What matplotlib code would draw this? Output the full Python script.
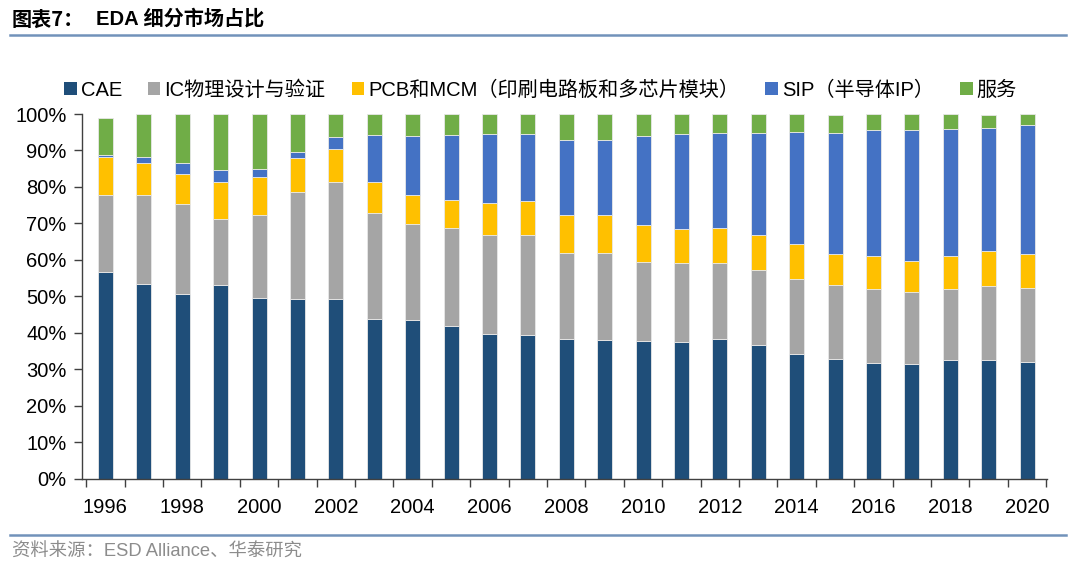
import numpy as np
from matplotlib import pyplot as plt
from matplotlib.lines import Line2D
from matplotlib.patches import Patch

plt.rcParams['font.family'] = ['Liberation Sans', 'Noto Sans CJK SC', 'DejaVu Sans']

years = list(range(1996, 2021))
# share of each segment, %
cae = [56.8, 53.4, 50.6, 53.0, 49.6, 49.4, 49.4, 43.7, 43.4, 42.0, 39.8, 39.4, 38.3,
       38.0, 37.8, 37.4, 38.3, 36.7, 34.1, 32.8, 31.6, 31.4, 32.5, 32.5, 31.9]
ic = [20.9, 24.3, 24.8, 18.2, 22.6, 29.3, 32.0, 29.2, 26.4, 26.7, 26.9, 27.5, 23.6,
      24.0, 21.7, 21.7, 20.9, 20.6, 20.7, 20.4, 20.5, 19.7, 19.5, 20.3, 20.4]
pcb = [10.6, 8.8, 8.1, 10.1, 10.4, 9.3, 9.1, 8.4, 8.1, 7.7, 8.8, 9.3, 10.3,
       10.4, 10.0, 9.4, 9.6, 9.4, 9.5, 8.5, 9.0, 8.6, 9.2, 9.6, 9.2]
sip = [0.5, 1.8, 3.0, 3.4, 2.3, 1.7, 3.3, 13.0, 16.1, 17.9, 19.1, 18.4, 20.6,
       20.4, 24.6, 25.9, 26.1, 28.0, 30.8, 33.2, 34.5, 36.0, 34.7, 33.8, 35.5]
service = [10.2, 11.7, 13.5, 15.3, 15.1, 10.3, 6.2, 5.7, 6.0, 5.7, 5.4, 5.4, 7.2,
           7.2, 5.9, 5.6, 5.1, 5.3, 4.9, 4.9, 4.4, 4.3, 4.1, 3.6, 3.0]

series = [
    ('CAE', cae, '#1F4E79'),
    ('IC物理设计与验证', ic, '#A5A5A5'),
    ('PCB和MCM（印刷电路板和多芯片模块）', pcb, '#FFC000'),
    ('SIP（半导体IP）', sip, '#4472C4'),
    ('服务', service, '#70AD47'),
]

fig = plt.figure(figsize=(10.8, 5.77), dpi=100)
ax = fig.add_axes([82 / 1080, 1 - 478.7 / 577, (1047 - 82) / 1080, (478.7 - 114) / 577])

x = np.arange(len(years))
bottom = np.zeros(len(years))
for label, values, color in series:
    ax.bar(x, values, width=0.39, bottom=bottom, color=color, label=label,
           edgecolor='#e8e8e8', linewidth=0.6)
    bottom += np.array(values)

ax.set_xlim(-0.61, 24.52)
ax.set_ylim(0, 100)
ax.set_yticks(range(0, 101, 10))
ax.set_yticklabels([f'{v}%' for v in range(0, 101, 10)], fontsize=14.5)
ax.set_xticks(x[::2])
ax.set_xticklabels([str(y) for y in years[::2]], fontsize=14.5)
ax.set_xticks(np.arange(-0.5, 25, 1), minor=True)
ax.tick_params(axis='x', which='major', length=0, pad=14)
ax.tick_params(axis='x', which='minor', length=6, width=1, color='#404040', direction='out')
ax.tick_params(axis='y', length=6, width=1, color='#404040', direction='out', pad=5)
for side in ('top', 'right'):
    ax.spines[side].set_visible(False)
for side in ('left', 'bottom'):
    ax.spines[side].set_color('#404040')
    ax.spines[side].set_linewidth(1)

handles = [Patch(facecolor=c, edgecolor='none') for _, _, c in series]
fig.legend(handles, [s[0] for s in series], loc='center left',
           bbox_to_anchor=(56 / 1080, 1 - 90 / 577), ncol=5, frameon=False,
           fontsize=14.5, handlelength=0.62, handleheight=0.62, handletextpad=0.2,
           columnspacing=1.3, borderaxespad=0)

fig.text(12 / 1080, 1 - 19 / 577, '图表7：', fontsize=14.5,
         fontweight='bold', va='center', ha='left',
         family=['Noto Sans CJK SC', 'Liberation Sans'])
fig.text(96 / 1080, 1 - 19 / 577, 'EDA 细分市场占比', fontsize=14.5,
         fontweight='bold', va='center', ha='left',
         family=['Liberation Sans', 'Noto Sans CJK SC'])
fig.add_artist(Line2D([10 / 1080, 1066 / 1080], [1 - 34.5 / 577] * 2, color='#7192BA', lw=1.8))
fig.add_artist(Line2D([10 / 1080, 1066 / 1080], [1 - 535 / 577] * 2, color='#7192BA', lw=1.8))
fig.text(12 / 1080, 1 - 552 / 577, '资料来源：ESD Alliance、华泰研究', fontsize=13.2,
         color='#8C8C8C', va='center', ha='left')

fig.savefig('out.png', dpi=100)
